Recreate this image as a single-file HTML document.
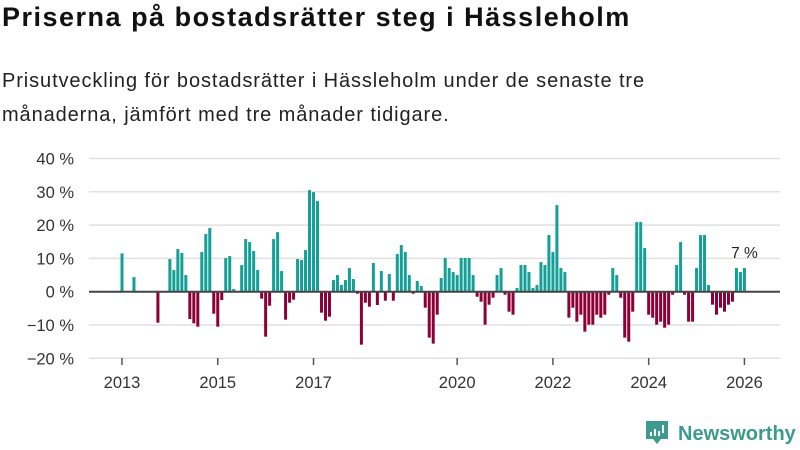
<!DOCTYPE html>
<html><head><meta charset="utf-8">
<style>
body{margin:0;background:#fff;width:800px;height:450px;overflow:hidden;font-family:"Liberation Sans","DejaVu Sans",sans-serif;}
h1{position:absolute;left:2px;top:2px;margin:0;font-size:27px;letter-spacing:1.5px;font-weight:bold;color:#111;white-space:nowrap;}
p.sub{position:absolute;left:2px;top:64px;margin:0;font-size:20px;letter-spacing:0.9px;line-height:34px;color:#222;width:650px;}
svg{position:absolute;left:0;top:0;}
</style></head><body>
<h1>Priserna på bostadsrätter steg i Hässleholm</h1>
<p class="sub">Prisutveckling för bostadsrätter i Hässleholm under de senaste tre månaderna, jämfört med tre månader tidigare.</p>
<svg id="chart" width="800" height="450"></svg>
<script>
const yTicks=[40,30,20,10,0,-10,-20];
const yTickLabels=["40 %","30 %","20 %","10 %","0 %","\u221210 %","\u221220 %"];
const xTickYears=[2013,2015,2017,2020,2022,2024,2026];
const startYear=2013;
const values=[11.5,null,null,4.4,null,null,null,null,null,-9.3,null,null,
9.8,6.5,12.8,11.6,5.0,-8.2,-9.5,-10.5,11.9,17.3,19.1,-6.6,
-10.5,-2.5,10.1,10.7,0.8,null,8.0,15.8,14.9,12.2,6.5,-2.1,
-13.5,-4.2,15.8,17.9,6.2,-8.4,-3.3,-2.4,9.8,9.5,12.5,30.5,
29.9,27.2,-6.3,-8.7,-7.5,3.5,5.0,2.0,3.5,7.1,3.8,-0.6,
-15.9,-3.3,-4.5,8.6,-4.0,6.2,-2.7,5.3,-2.7,11.3,14.0,11.9,
5.0,-0.6,3.2,1.7,-4.8,-13.8,-15.6,-6.9,4.1,10.1,7.1,5.9,
5.0,10.1,10.1,10.1,5.0,-1.5,-3.0,-9.9,-3.9,-1.8,5.0,7.1,
-0.9,-6.0,-6.9,1.1,8.0,8.0,5.9,1.1,2.0,8.9,8.0,17.0,
11.9,26.0,7.1,5.9,-7.8,-4.8,-9.0,-6.9,-12.0,-9.9,-9.9,-6.9,
-7.8,-6.9,-0.9,7.1,5.0,-1.8,-13.8,-15.0,-6.0,20.9,20.9,13.1,
-6.9,-7.8,-9.9,-9.0,-10.8,-9.9,-0.9,8.0,14.9,-0.9,-9.0,-9.0,
7.1,17.0,17.0,2.0,-3.9,-6.9,-4.8,-6.0,-3.9,-3.0,7.1,5.9,7.1];
const lastLabel="7 %";

const svg=document.getElementById('chart');
const NS='http://www.w3.org/2000/svg';
const y=v=>291.7-v*3.33;
const x=m=>122+m*3.99;
function mk(t,a){const e=document.createElementNS(NS,t);for(const k in a)e.setAttribute(k,a[k]);svg.appendChild(e);return e;}
yTicks.forEach((t,i)=>{
  if(t!==0){const g=mk('line',{x1:89,x2:780,y1:y(t),y2:y(t),stroke:'#e0e0e0','stroke-width':1.5});
  
  }
  const l=mk('text',{x:74,y:y(t)+6,'text-anchor':'end','font-size':16.5,fill:'#333'});
  l.textContent=yTickLabels[i];
  
  
});
xTickYears.forEach(yr=>{
  const m=(yr-startYear)*12;
  const t=mk('line',{x1:x(m),x2:x(m),y1:358,y2:365,stroke:'#555','stroke-width':1.5});
  
  
  const l=mk('text',{x:x(m),y:388,'text-anchor':'middle','font-size':16.5,fill:'#333'});
  l.textContent=yr;
  
  
});
values.forEach((v,m)=>{
  if(v===null)return;
  const top=Math.min(y(v),y(0)), h=Math.abs(y(v)-y(0));
  const b=mk('rect',{x:x(m)-1.5,y:top,width:3,height:h,fill:v>=0?'#14a096':'#8c0036'});
  
  
});
const z=mk('line',{x1:89,x2:780,y1:y(0),y2:y(0),stroke:'#444','stroke-width':2});


const li=values.length-1;
const ll=mk('text',{x:x(li),y:y(values[li])-10,'text-anchor':'middle','font-size':15.5,fill:'#222'});
ll.textContent=lastLabel;


</script>
<svg width="800" height="450">
<path d="M646 421 h22 v18 h-7 l-4 5 l-4 -5 h-7 z" fill="#3d9a8e"/>
<rect x="650" y="432" width="2" height="4" fill="#fff"/><rect x="654" y="429" width="2" height="7" fill="#fff"/><rect x="658" y="431" width="2" height="5" fill="#fff"/><rect x="662" y="425" width="2" height="8" fill="#fff"/>
<text x="678" y="440" font-size="20" font-weight="bold" fill="#3d9a8e" font-family="Liberation Sans, sans-serif">Newsworthy</text>
</svg>
</body></html>
